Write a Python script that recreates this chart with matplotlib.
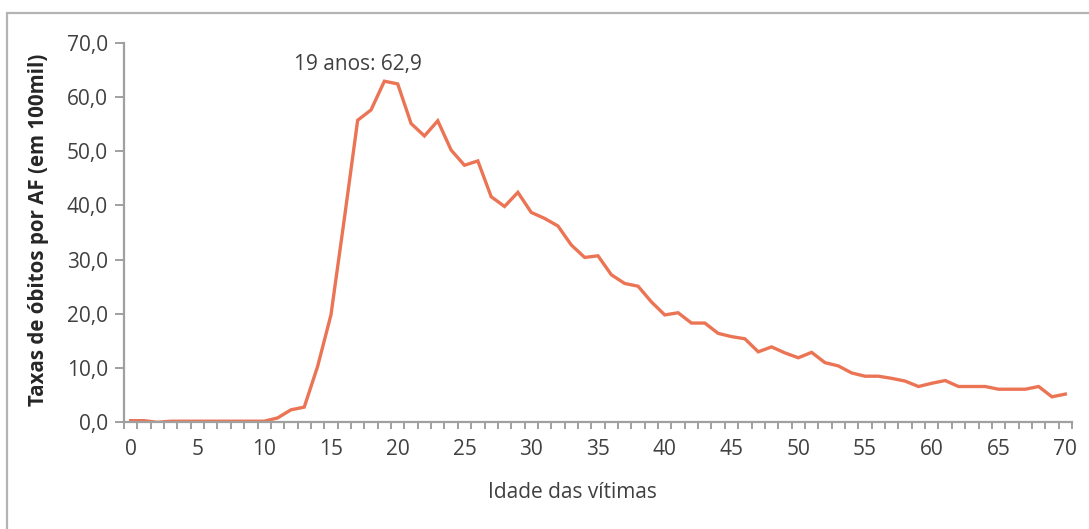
import matplotlib
matplotlib.use("Agg")
import matplotlib.pyplot as plt
from matplotlib.patches import Rectangle
import numpy as np

plt.rcParams['font.family'] = ['Open Sans', 'DejaVu Sans']

ages = list(range(0, 71))
rates = [0.3, 0.3, 0.0, 0.2, 0.2, 0.2, 0.2, 0.2, 0.2, 0.2,
         0.2, 0.8, 2.3, 2.8, 10.3, 19.8, 37.5, 55.7, 57.6, 62.9,
         62.4, 55.1, 52.8, 55.6, 50.2, 47.4, 48.2, 41.6, 39.8, 42.4,
         38.7, 37.6, 36.2, 32.7, 30.4, 30.7, 27.2, 25.6, 25.1, 22.2,
         19.8, 20.2, 18.3, 18.3, 16.4, 15.8, 15.4, 13.0, 13.9, 12.8,
         11.9, 12.9, 11.0, 10.4, 9.1, 8.5, 8.5, 8.1, 7.6, 6.6,
         7.2, 7.7, 6.6, 6.6, 6.6, 6.1, 6.1, 6.1, 6.6, 4.7,
         5.2]
yticks = [0, 10, 20, 30, 40, 50, 60, 70]
xticks = list(range(0, 71, 5))
peak_age = 19
peak_label = "19 anos: 62,9"

W, H = 1089, 529
fig = plt.figure(figsize=(W / 100, H / 100), dpi=100)
fig.patches.append(Rectangle((7 / W, -0.1), 1.2, 1.1 - 13 / H,
                             transform=fig.transFigure, fill=False,
                             edgecolor='#B4B4B4', linewidth=1.6))

ax = fig.add_axes([124 / W, 1 - 422.3 / H, 948 / W, (422.3 - 42.7) / H])
line_color = '#EB7455'
axis_color = '#A0A0A0'
text_color = '#404040'

ax.plot(ages, rates, color=line_color, linewidth=2.4, solid_joinstyle='miter')

ax.set_xlim(-0.5, 70.5)
ax.set_ylim(0, 70)
for s in ['top', 'right']:
    ax.spines[s].set_visible(False)
for s in ['left', 'bottom']:
    ax.spines[s].set_color(axis_color)
    ax.spines[s].set_linewidth(1.6)

ax.set_yticks(yticks)
ax.set_yticklabels([f"{v:.1f}".replace('.', ',') for v in yticks])
ax.tick_params(axis='y', length=6.5, width=1.4, color=axis_color, pad=5,
               labelsize=15, labelcolor=text_color)

ax.set_xticks(xticks)
ax.set_xticklabels([str(v) for v in xticks])
ax.set_xticks(np.arange(-0.5, 71, 1), minor=True)
ax.tick_params(axis='x', which='major', length=0, pad=12,
               labelsize=15, labelcolor=text_color)
ax.tick_params(axis='x', which='minor', length=5, width=1.4, color=axis_color)

ax.set_ylabel("Taxas de óbitos por AF (em 100mil)", fontsize=14.8,
              fontweight='bold', color='#262626')
ax.yaxis.set_label_coords(39 / W, 1 - 230 / H, transform=fig.transFigure)
ax.yaxis.label.set_va('center')
ax.set_xlabel("Idade das vítimas", fontsize=15, color=text_color)
ax.xaxis.set_label_coords(572 / W, 1 - 492 / H, transform=fig.transFigure)
ax.xaxis.label.set_va('center')

ax.annotate(peak_label, xy=(peak_age, rates[ages.index(peak_age)]),
            xytext=(-19, 12), textcoords='offset points',
            ha='center', va='center', fontsize=15, color=text_color)

fig.savefig("out.png", dpi=100)
